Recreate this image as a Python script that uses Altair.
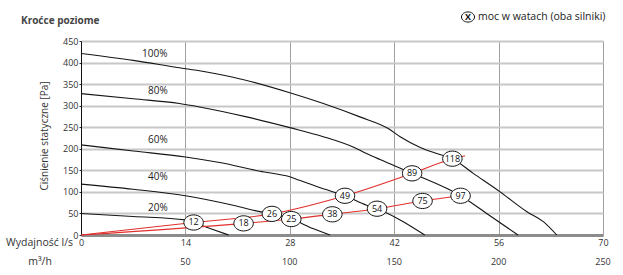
import altair as alt
import pandas as pd

# ---- fan curves (flow l/s, static pressure Pa) ----
x100 = [0, 7, 13.2, 15.5, 20.4, 28, 32.5, 37.4, 41.2, 42.8, 45.5, 47.7, 49.8, 52.6, 56.2, 59.8, 62, 63.8]
y100 = [421, 405, 388, 382, 366, 330, 305, 274, 247, 228, 203, 189, 177, 143, 100, 54, 31, 0]
x80 = [0, 7, 13.2, 15.9, 22.2, 28, 32.5, 36.5, 38.3, 40.1, 44.4, 50.9, 54.4, 58.6]
y80 = [328, 316, 305, 297, 274, 249, 228, 204, 189, 175, 143, 91, 50, 0]
x60 = [0, 7, 14, 18.6, 24, 28, 29.3, 32, 35.4, 38.3, 39.7, 42.8, 46.1]
y60 = [209, 195, 181, 168, 148, 135, 127, 110, 91, 69, 61, 35, 0]
x40 = [0, 7, 14, 20.4, 24.3, 25.6, 28.2, 31.1, 33.4]
y40 = [118, 106, 91, 69, 53, 49, 37, 15, 0]
x20 = [0, 7, 14, 15.1, 17.5, 19.8]
y20 = [50, 43, 35, 29, 14, 0]

# curve labels
curve_names = ["100%", "80%", "60%", "40%", "20%"]
curve_label_x = [9.9, 10.3, 10.3, 10.3, 10.3]
curve_label_y = [421, 333, 220, 135, 63]

# ---- red operating lines ----
ru_x = [0, 15.1, 25.6, 35.4, 44.4, 49.8, 51.5]
ru_y = [0, 29, 49, 91, 143, 177, 184]
rl_x = [0, 21.8, 28.2, 33.7, 39.7, 45.8, 50.9]
rl_y = [0, 27, 37, 48, 61, 79, 91]

# ---- power labels (W) ----
pw_x = [15.1, 25.6, 35.4, 44.4, 49.8, 21.8, 28.2, 33.7, 39.7, 45.8, 50.9]
pw_y = [29, 49, 91, 143, 177, 27, 37, 48, 61, 79, 91]
pw_text = ["12", "26", "49", "89", "118", "18", "25", "38", "54", "75", "97"]

# ---- axes ----
x_ticks = [0, 14, 28, 42, 56, 70]
m3h_labels = ["50", "100", "150", "200", "250"]
m3h_pos = [14, 28, 42, 56, 70]
y_ticks = [0, 50, 100, 150, 200, 250, 300, 350, 400, 450]

FONT = "Open Sans"
W, H = 522, 194

rows = []
for name, xs_, ys_ in zip(curve_names, [x100, x80, x60, x40, x20], [y100, y80, y60, y40, y20]):
    for a, b in zip(xs_, ys_):
        rows.append({"curve": name, "x": a, "y": b})
df_curves = pd.DataFrame(rows)

rrows = [{"s": "u", "x": a, "y": b} for a, b in zip(ru_x, ru_y)] + \
        [{"s": "l", "x": a, "y": b} for a, b in zip(rl_x, rl_y)]
df_red = pd.DataFrame(rrows)

df_pw = pd.DataFrame({"x": pw_x, "y": pw_y, "t": pw_text})
df_cl = pd.DataFrame({"x": curve_label_x, "y": curve_label_y, "t": curve_names})
df_m3 = pd.DataFrame({"x": m3h_pos, "t": m3h_labels})

xs = alt.Scale(domain=[0, 70], nice=False, zero=False)
ys = alt.Scale(domain=[0, 450], nice=False, zero=False)

xaxis = alt.Axis(values=x_ticks, title=None, grid=True, gridColor="#a0a0a0", gridWidth=1,
                 domainColor="#8c8c8c", domainWidth=3, ticks=False, labelFontSize=9,
                 labelPadding=3, labelColor="#333", labelFont=FONT, labelFlush=False)
yaxis = alt.Axis(values=y_ticks, title=None, grid=True, gridColor="#c8c8c8", gridWidth=2,
                 domainColor="#111", domainWidth=1, tickSize=2, tickColor="#1a2a4a",
                 labelFontSize=9, labelPadding=1, labelColor="#333", labelFont=FONT,
                 labelFlush=False)

X = alt.X("x:Q", scale=xs, axis=xaxis)
Y = alt.Y("y:Q", scale=ys, axis=yaxis)

curves = alt.Chart(df_curves).mark_line(color="#151515", strokeWidth=1.1,
                                        interpolate="monotone").encode(
    x=X, y=Y, detail="curve:N")

red = alt.Chart(df_red).mark_line(color="#e0302c", strokeWidth=1.1,
                                  interpolate="monotone").encode(
    x=X, y=Y, detail="s:N")

ellipse = "M-1,0A1,0.78,0,1,1,1,0A1,0.78,0,1,1,-1,0Z"
bubbles = alt.Chart(df_pw).mark_point(shape=ellipse, size=380, filled=True, fill="white",
                                      stroke="#111", strokeWidth=1, opacity=1).encode(x=X, y=Y)
bubble_txt = alt.Chart(df_pw).mark_text(fontSize=9, font=FONT, color="#111",
                                        baseline="middle", align="center").encode(
    x=X, y=Y, text="t:N")

clabels = alt.Chart(df_cl).mark_text(fontSize=10, font=FONT, color="#222",
                                     baseline="middle", align="center").encode(
    x=X, y=Y, text="t:N")

m3 = alt.Chart(df_m3).mark_text(fontSize=9, font=FONT, color="#333",
                                baseline="middle", align="center").encode(
    x=X, y=alt.value(H + 27), text="t:N")

def label(txt, px, py, size=10.5, align="left", angle=0, weight="normal", color="#333"):
    d = pd.DataFrame({"t": [txt]})
    kw = dict(fontSize=size, font=FONT, color=color, align=align, baseline="middle",
              fontWeight=weight)
    if angle:
        kw["angle"] = angle
    return alt.Chart(d).mark_text(**kw).encode(x=alt.value(px), y=alt.value(py), text="t:N")

title = label("Kroćce poziome", -60, -20, size=10, weight="bold", color="#444")
ytitle = label("Ciśnienie statyczne [Pa]", -36, 95, size=10, align="center", angle=270)
xtitle = label("Wydajność l/s", -8, H + 8, size=10.5, align="right", color="#333")
m3title = label("m³/h", -41, H + 27, size=10.5, align="center")

legend_pt = alt.Chart(pd.DataFrame({"a": [0]})).mark_point(
    shape=ellipse, size=170, filled=True, fill="white", stroke="#111", strokeWidth=1,
    opacity=1).encode(x=alt.value(387), y=alt.value(-24))
legend_x = label("X", 387, -24, size=9, align="center", weight="bold", color="#111")
legend_txt = label("moc w watach (oba silniki)", 397, -24, size=10.5, color="#222")

chart = alt.layer(curves, red, bubbles, bubble_txt, clabels, m3, title, ytitle, xtitle,
                  m3title, legend_pt, legend_x, legend_txt).properties(
    width=W, height=H,
    padding={"left": 81, "top": 41, "right": 20, "bottom": 40},
    autosize=alt.AutoSizeParams(type="none"),
).configure_view(stroke=None).configure(background="white")

chart.save("out.html", embed_options={"renderer": "svg", "actions": False})
